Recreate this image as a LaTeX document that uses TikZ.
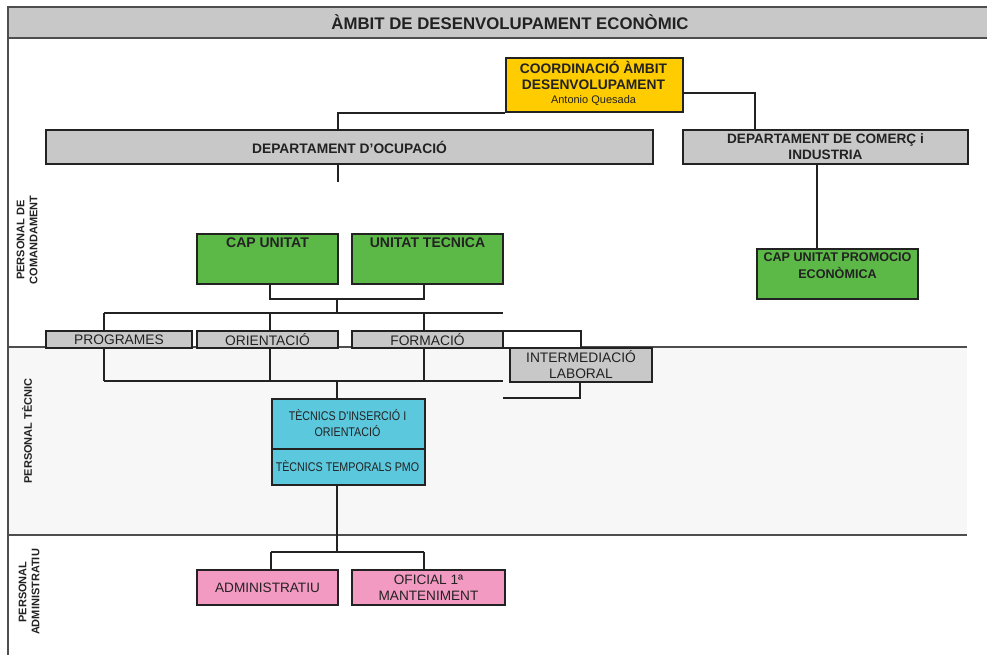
\documentclass[tikz,border=0pt]{standalone}
\usepackage{fontspec}
\setmainfont{Liberation Sans}
\newfontfamily\narrowfont[FakeStretch=0.85]{Liberation Sans}
\definecolor{cgray}{HTML}{C8C8C8}
\definecolor{cyell}{HTML}{FFCC00}
\definecolor{cgreen}{HTML}{5DB947}
\definecolor{cpink}{HTML}{F29AC2}
\definecolor{ccyan}{HTML}{5CC8DD}
\definecolor{cline}{HTML}{222222}
\definecolor{cband}{HTML}{F7F7F7}
\begin{document}
\begin{tikzpicture}[x=1pt,y=-1pt,
  boxst/.style={draw=cline,line width=2pt,inner sep=0pt,anchor=north west,align=center,text=cline},
  conn/.style={draw=cline,line width=2pt},
  sect/.style={draw=cline!80,line width=1.6pt},
  lbl/.style={rotate=90,font=\bfseries\fontsize{11}{13}\selectfont,align=center,text=cline}]
\useasboundingbox (0,0) rectangle (987,655);
% band
\fill[cband] (8,347) rectangle (967,535);
% title bar
\fill[cgray] (8,7) rectangle (987,38);
\draw[sect] (8,7) -- (987,7);
\draw[sect] (8,38) -- (987,38);
\draw[sect] (8,6) -- (8,655);
\draw[sect] (8,347) -- (967,347);
\draw[sect] (8,535) -- (967,535);
\node[font=\bfseries\fontsize{16.8}{18}\selectfont,text=cline] (title) at (510,22) {ÀMBIT DE DESENVOLUPAMENT ECONÒMIC};
% section labels
\node[lbl] (lcom) at (27,240) {PERSONAL DE\\COMANDAMENT};
\node[lbl] (ltec) at (27,431) {PERSONAL TÈCNIC};
\node[lbl] (ladm) at (29,592) {PERSONAL\\ADMINISTRATIU};
% boxes
\node[boxst,fill=cyell,minimum width=177pt,minimum height=54pt] (coord) at (505,57) {};
\node[font=\bfseries\fontsize{13.8}{16}\selectfont,text=cline] (coord1) at (593.5,67.5) {COORDINACIÓ ÀMBIT};
\node[font=\bfseries\fontsize{13.8}{16}\selectfont,text=cline] (coord2) at (593.5,84.5) {DESENVOLUPAMENT};
\node[font=\fontsize{11}{13}\selectfont,text=cline] (coord3) at (593.5,101) {Antonio Quesada};
\node[boxst,fill=cgray,minimum width=607pt,minimum height=34pt,font=\bfseries\fontsize{13.8}{16}\selectfont] (ocup) at (45,129) {DEPARTAMENT D'OCUPACIÓ};
\node[boxst,fill=cgray,minimum width=285pt,minimum height=34pt,font=\bfseries\fontsize{13.6}{16}\selectfont] (comerc) at (682,129) {DEPARTAMENT DE COMERÇ i\\INDUSTRIA};
\node[boxst,fill=cgreen,minimum width=141pt,minimum height=50pt] (capu) at (196,233) {};
\node[font=\bfseries\fontsize{14}{16}\selectfont,text=cline,anchor=north] (capul) at ([yshift=-1pt]capu.north) {CAP UNITAT};
\node[boxst,fill=cgreen,minimum width=151pt,minimum height=50pt] (utec) at (351,233) {};
\node[font=\bfseries\fontsize{14}{16}\selectfont,text=cline,anchor=north] (utecl) at ([yshift=-1pt]utec.north) {UNITAT TECNICA};
\node[boxst,fill=cgreen,minimum width=161pt,minimum height=50pt] (promo) at (756,248) {};
\node[font=\bfseries\fontsize{12.6}{17}\selectfont,text=cline,anchor=north,align=center] (promol) at ([yshift=-1pt]promo.north) {CAP UNITAT PROMOCIO\\ECONÒMICA};
\node[boxst,fill=cgray,minimum width=146pt,minimum height=17pt,font=\fontsize{13.8}{14}\selectfont] (prog) at (45,330) {PROGRAMES};
\node[boxst,fill=cgray,minimum width=141pt,minimum height=17pt,font=\fontsize{13.8}{14}\selectfont] (orient) at (196,330) {ORIENTACIÓ};
\node[boxst,fill=cgray,minimum width=151pt,minimum height=17pt,font=\fontsize{13.8}{14}\selectfont] (form) at (351,330) {FORMACIÓ};
\node[boxst,fill=white,minimum width=78pt,minimum height=17pt] (empty) at (502,330) {};
\node[boxst,fill=cgray,minimum width=142pt,minimum height=34pt,font=\fontsize{13.8}{16}\selectfont] (interm) at (509,347) {INTERMEDIACIÓ\\LABORAL};
\node[boxst,fill=ccyan,minimum width=153pt,minimum height=86pt] (tec) at (271,398) {};
\draw[conn] (tec.west |- 0,449) coordinate (tdl) -- (tec.east |- 0,449) coordinate (tdr);
\node[font=\narrowfont\fontsize{12.6}{16}\selectfont,text=cline,align=center] (tec1) at (347.5,423) {TÈCNICS D'INSERCIÓ I\\ORIENTACIÓ};
\node[font=\narrowfont\fontsize{12.6}{13}\selectfont,text=cline] (tec2) at (347.5,466) {TÈCNICS TEMPORALS PMO};
\node[boxst,fill=cpink,minimum width=141pt,minimum height=35pt,font=\fontsize{13.6}{15}\selectfont] (admin) at (196,569) {ADMINISTRATIU};
\node[boxst,fill=cpink,minimum width=153pt,minimum height=35pt,font=\fontsize{13.6}{16.5}\selectfont] (ofic) at (351,569) {OFICIAL 1ª\\MANTENIMENT};
% junction coordinates
\coordinate (ocupin) at (338,129);
\coordinate (ocupout) at (338,163);
\coordinate (ocupend) at (338,182);
\coordinate (comin) at (755,129);
\coordinate (coordr) at (682,93);
\coordinate (comout) at (817,163);
\coordinate (promoin) at (817,248);
\coordinate (b1) at (270,283);
\coordinate (b2) at (424,283);
\coordinate (bm) at (337,299);
\coordinate (r1) at (104,313);
\coordinate (r2) at (503,313);
\coordinate (d1) at (104,381);
\coordinate (d2) at (503,381);
\coordinate (im) at (580,381);
\coordinate (ie) at (503,398);
\coordinate (tin) at (337,398);
\coordinate (tout) at (337,484);
\coordinate (aj) at (337,552);
% connectors
\draw[conn] (coord.south west) -| (ocupin);
\draw[conn] (coordr) -| (comin);
\draw[conn] (ocupout) -- (ocupend);
\draw[conn] (comout) -- (promoin);
\draw[conn] (b1) -- (270,299) -- (424,299) -- (b2);
\draw[conn] (bm) -- (337,313);
\draw[conn] (r1) -- (r2);
\draw[conn] (r1) -- (104,330);
\draw[conn] (270,313) -- (270,330);
\draw[conn] (424,313) -- (424,330);
\draw[conn] (104,347) -- (d1);
\draw[conn] (270,347) -- (270,381);
\draw[conn] (424,347) -- (424,381);
\draw[conn] (d1) -- (d2);
\draw[conn] (337,381) -- (tin);
\draw[conn] (im) -- (580,398) -- (ie);
\draw[conn] (tout) -- (aj);
\draw[conn] (271,552) -- (424,552);
\draw[conn] (271,552) -- (271,569);
\draw[conn] (424,552) -- (424,569);
\end{tikzpicture}
\end{document}
